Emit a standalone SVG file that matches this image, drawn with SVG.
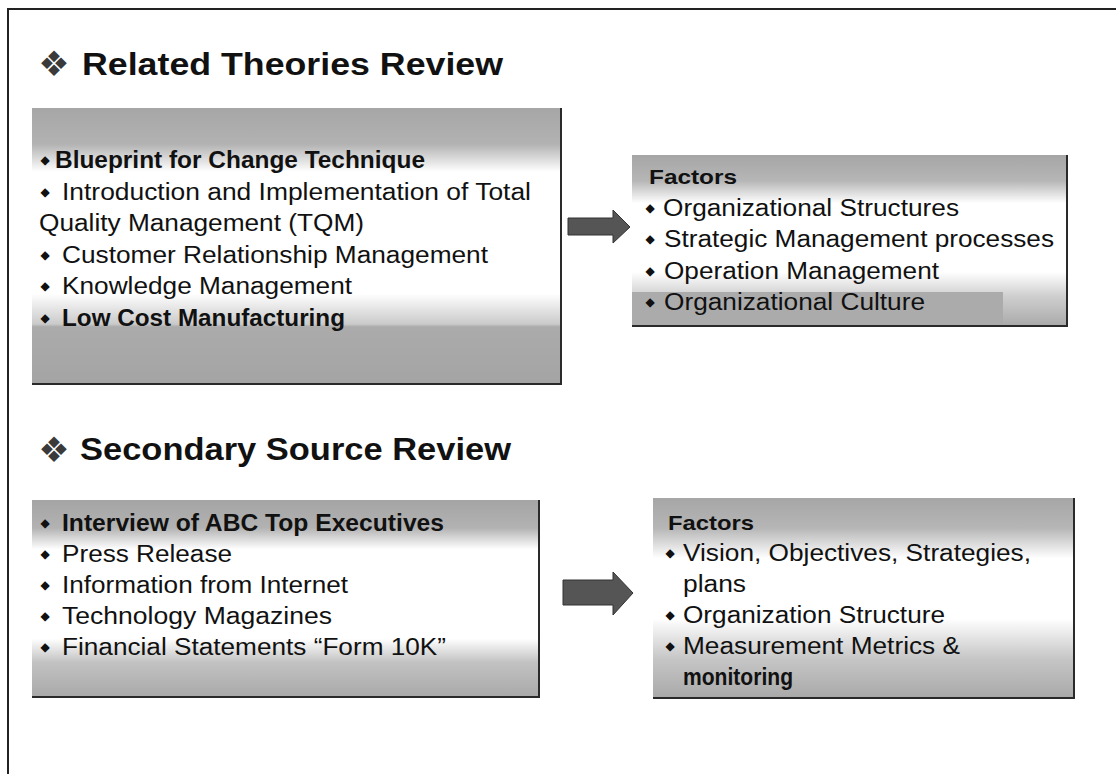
<svg xmlns="http://www.w3.org/2000/svg" width="1116" height="774" viewBox="0 0 1116 774">
<style>
.t{font-family:"Liberation Sans",Arial,Helvetica,sans-serif;font-size:23px;fill:#111}
.b{font-weight:bold}
.h{font-family:"Liberation Sans",Arial,Helvetica,sans-serif;font-size:31px;font-weight:bold;fill:#111}
.f{font-family:"Liberation Sans",Arial,Helvetica,sans-serif;font-size:21px;font-weight:bold;fill:#111}
.bul{font-family:"DejaVu Sans",sans-serif;font-size:12px;fill:#111;text-anchor:middle}
.sym{font-family:"DejaVu Sans",sans-serif;font-size:35px;fill:#3a3a3a;text-anchor:middle}
.edge{fill:none;stroke:#2a2a2a;stroke-width:2}
.arrow{fill:#555;stroke:#333;stroke-width:1}
</style>
<defs>
<linearGradient id="g1" x1="0" y1="0" x2="0" y2="1">
<stop offset="0" stop-color="#a6a6a6"/><stop offset="0.13" stop-color="#b2b2b2"/><stop offset="0.23" stop-color="#ffffff"/><stop offset="0.67" stop-color="#ffffff"/><stop offset="0.78" stop-color="#cacaca"/><stop offset="0.79" stop-color="#ababab"/><stop offset="1" stop-color="#a4a4a4"/>
</linearGradient>
<linearGradient id="g2" x1="0" y1="0" x2="0" y2="1">
<stop offset="0" stop-color="#a6a6a6"/><stop offset="0.15" stop-color="#b6b6b6"/><stop offset="0.28" stop-color="#ffffff"/><stop offset="0.68" stop-color="#ffffff"/><stop offset="0.82" stop-color="#cfcfcf"/><stop offset="1" stop-color="#a8a8a8"/>
</linearGradient>
<linearGradient id="g3" x1="0" y1="0" x2="0" y2="1">
<stop offset="0" stop-color="#a4a4a4"/><stop offset="0.14" stop-color="#b2b2b2"/><stop offset="0.25" stop-color="#ffffff"/><stop offset="0.7" stop-color="#ffffff"/><stop offset="0.82" stop-color="#c2c2c2"/><stop offset="1" stop-color="#a8a8a8"/>
</linearGradient>
<linearGradient id="g4" x1="0" y1="0" x2="0" y2="1">
<stop offset="0" stop-color="#a6a6a6"/><stop offset="0.15" stop-color="#b6b6b6"/><stop offset="0.3" stop-color="#ffffff"/><stop offset="0.6" stop-color="#ffffff"/><stop offset="0.8" stop-color="#c6c6c6"/><stop offset="1" stop-color="#a8a8a8"/>
</linearGradient>
</defs>
<rect width="1116" height="774" fill="#ffffff"/>
<path d="M8,774 V9 H1116" fill="none" stroke="#222" stroke-width="2"/>

<g id="title-theories">
<text class="sym" x="54" y="76">❖</text>
<text class="h" x="82" y="75" textLength="421" lengthAdjust="spacingAndGlyphs">Related Theories Review</text>
</g>

<g id="node-theories">
<rect x="32" y="108" width="530" height="277" fill="url(#g1)"/>
<path class="edge" d="M561,108 V384 H32"/>
<text class="bul" x="45" y="164">◆</text>
<text class="t b" x="55" y="168" textLength="370" lengthAdjust="spacingAndGlyphs">Blueprint for Change Technique</text>
<text class="bul" x="45" y="196">◆</text>
<text class="t" x="62" y="200" textLength="469" lengthAdjust="spacingAndGlyphs">Introduction and Implementation of Total</text>
<text class="t" x="39" y="231" textLength="325" lengthAdjust="spacingAndGlyphs">Quality Management (TQM)</text>
<text class="bul" x="45" y="259">◆</text>
<text class="t" x="62" y="263" textLength="426" lengthAdjust="spacingAndGlyphs">Customer Relationship Management</text>
<text class="bul" x="45" y="290">◆</text>
<text class="t" x="62" y="294" textLength="290" lengthAdjust="spacingAndGlyphs">Knowledge Management</text>
<text class="bul" x="45" y="322">◆</text>
<text class="t b" x="62" y="326" textLength="283" lengthAdjust="spacingAndGlyphs">Low Cost Manufacturing</text>
</g>

<g id="node-factors1">
<rect x="632" y="155" width="436" height="172" fill="url(#g2)"/>
<rect x="632" y="292" width="371" height="34" fill="#ababab"/>
<path class="edge" d="M1067,155 V326 H632"/>
<text class="f" x="649" y="184" textLength="88" lengthAdjust="spacingAndGlyphs">Factors</text>
<text class="bul" x="650" y="212">◆</text>
<text class="t" x="663" y="216" textLength="296" lengthAdjust="spacingAndGlyphs">Organizational Structures</text>
<text class="bul" x="650" y="243">◆</text>
<text class="t" x="664" y="247" textLength="390" lengthAdjust="spacingAndGlyphs">Strategic Management processes</text>
<text class="bul" x="650" y="275">◆</text>
<text class="t" x="664" y="279" textLength="275" lengthAdjust="spacingAndGlyphs">Operation Management</text>
<text class="bul" x="650" y="306">◆</text>
<text class="t" x="664" y="310" textLength="261" lengthAdjust="spacingAndGlyphs">Organizational Culture</text>
</g>

<g id="title-sources">
<text class="sym" x="54" y="462">❖</text>
<text class="h" x="80" y="460" textLength="431" lengthAdjust="spacingAndGlyphs">Secondary Source Review</text>
</g>

<g id="node-sources">
<rect x="32" y="500" width="508" height="198" fill="url(#g3)"/>
<path class="edge" d="M539,500 V697 H32"/>
<text class="bul" x="45" y="527">◆</text>
<text class="t b" x="62" y="531" textLength="382" lengthAdjust="spacingAndGlyphs">Interview of ABC Top Executives</text>
<text class="bul" x="45" y="558">◆</text>
<text class="t" x="62" y="562" textLength="170" lengthAdjust="spacingAndGlyphs">Press Release</text>
<text class="bul" x="45" y="589">◆</text>
<text class="t" x="62" y="593" textLength="286" lengthAdjust="spacingAndGlyphs">Information from Internet</text>
<text class="bul" x="45" y="620">◆</text>
<text class="t" x="62" y="624" textLength="270" lengthAdjust="spacingAndGlyphs">Technology Magazines</text>
<text class="bul" x="45" y="651">◆</text>
<text class="t" x="62" y="655" textLength="384" lengthAdjust="spacingAndGlyphs">Financial Statements “Form 10K”</text>
</g>

<g id="node-factors2">
<rect x="653" y="498" width="422" height="201" fill="url(#g4)"/>
<path class="edge" d="M1074,498 V698 H653"/>
<text class="f" x="668" y="530" textLength="86" lengthAdjust="spacingAndGlyphs">Factors</text>
<text class="bul" x="670" y="557">◆</text>
<text class="t" x="683" y="561" textLength="348" lengthAdjust="spacingAndGlyphs">Vision, Objectives, Strategies,</text>
<text class="t" x="683" y="592" textLength="63" lengthAdjust="spacingAndGlyphs">plans</text>
<text class="bul" x="670" y="619">◆</text>
<text class="t" x="683" y="623" textLength="262" lengthAdjust="spacingAndGlyphs">Organization Structure</text>
<text class="bul" x="670" y="650">◆</text>
<text class="t" x="683" y="654" textLength="277" lengthAdjust="spacingAndGlyphs">Measurement Metrics &amp;</text>
<text class="t b" x="683" y="685" textLength="110" lengthAdjust="spacingAndGlyphs">monitoring</text>
</g>

<g id="connectors">
<polygon class="arrow" points="568,218 613,218 613,210 630,227 613,243 613,235 568,235"/>
<polygon class="arrow" points="563,580 613,580 613,572 633,593 613,615 613,605 563,605"/>
</g>
</svg>
